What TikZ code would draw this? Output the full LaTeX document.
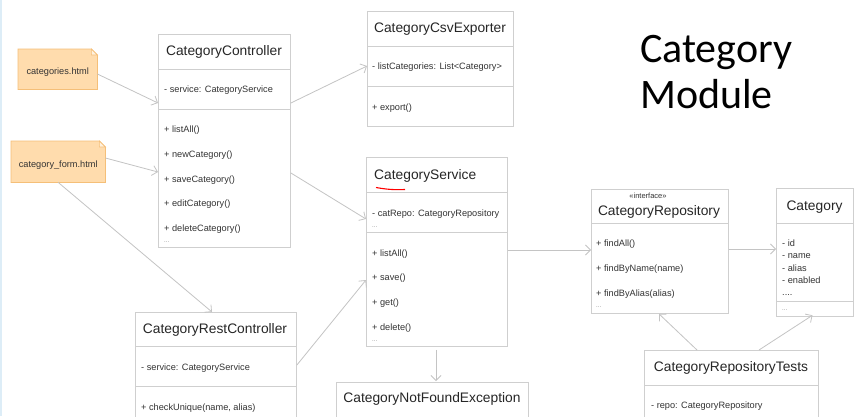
\documentclass[tikz,border=0pt]{standalone}
\usepackage{fontspec}
\setmainfont{Liberation Sans}
\newfontfamily\slidefont{Carlito}
\usetikzlibrary{arrows.meta}
\definecolor{l_note}{HTML}{FFDCAD}
\definecolor{d_note}{HTML}{F5BF78}
\definecolor{l_fold}{HTML}{FFF1DE}
\definecolor{d_box}{HTML}{CFCFCF}
\definecolor{d_line}{HTML}{C4C4C4}
\definecolor{d_text}{HTML}{333333}
\definecolor{l_edge}{HTML}{DDEDF7}

\begin{document}
\begin{tikzpicture}[x=1pt,y=-1pt,
  classbox/.style n args={2}{draw=d_box, line width=0.9pt, fill=white, anchor=north west,
    inner sep=0pt, minimum width=#1, minimum height=#2},
  notebox/.style n args={2}{anchor=north west, inner sep=0pt, minimum width=#1, minimum height=#2},
  classname/.style={font=\fontsize{13.8}{16}\selectfont, text=black!85, inner sep=0pt},
  member/.style={font=\fontsize{9.2}{11}\selectfont, text=d_text, inner sep=0pt, anchor=base west, yshift=-3.4pt},
  more/.style={font=\fontsize{6}{7}\selectfont, text=gray, inner sep=0pt, anchor=west},
  sepline/.style={draw=d_box, line width=0.9pt},
  conn/.style={draw=d_line, line width=0.8pt, -{Straight Barb[length=5pt,width=10pt]}}]

\clip (0,0) rectangle (862,416);
\fill[white] (0,0) rectangle (862,416);
\fill[l_edge] (0,0) rectangle (2,416);

% title of the slide
\node[font=\slidefont\fontsize{42}{46}\selectfont, inner sep=0pt, anchor=base west] (titlea) at (640,62) {Category};
\node[font=\slidefont\fontsize{42}{46}\selectfont, inner sep=0pt, anchor=base west] (titleb) at (640,108) {Module};

% html pages
\node[notebox={79}{40}] (pagelist) at (18,49) {};
\node[notebox={94}{41}] (pageform) at (11,141) {};
\foreach \p in {pagelist,pageform}
{
\filldraw[fill=l_note, draw=d_note, line width=0.8pt] (\p.north west) -- ([xshift=-6pt]\p.north east) -- ([yshift=-6pt]\p.north east) -- (\p.south east) -- (\p.south west) -- cycle;
\filldraw[fill=l_fold, draw=d_note, line width=0.6pt] ([xshift=-6pt]\p.north east) -- ([xshift=-6pt,yshift=-6pt]\p.north east) -- ([yshift=-6pt]\p.north east) -- cycle;
}
\node[member, anchor=center, yshift=0pt] (pagelistname) at (pagelist.center) {categories.html};
\node[member, anchor=center, yshift=0pt] (pageformname) at (pageform.center) {category\_form.html};

% CategoryController
\node[classbox={132}{213}] (ctrl) at (158,34) {};
\draw[sepline] (ctrl.west |- 0,69) -- (ctrl.east |- 0,69);
\draw[sepline] (ctrl.west |- 0,109) -- (ctrl.east |- 0,109);
\node[classname] (ctrlname) at (224,52) {CategoryController};
\node[member] (ctrlattr) at (164,89) {- service: CategoryService};
\foreach \y/\txt [count=\i] in {129/{+ listAll()},154/{+ newCategory()},179/{+ saveCategory()},203/{+ editCategory()},228/{+ deleteCategory()}}
\node[member] (ctrlop\i) at (164,\y) {\txt};
\node[more] (ctrlmore) at (164,242) {...};

% CategoryCsvExporter
\node[classbox={146}{115}] (csv) at (367,11) {};
\draw[sepline] (csv.west |- 0,46) -- (csv.east |- 0,46);
\draw[sepline] (csv.west |- 0,86) -- (csv.east |- 0,86);
\node[classname] (csvname) at (440,29) {CategoryCsvExporter};
\node[member] (csvattr) at (372,66) {- listCategories: List<Category>};
\node[member] (csvop) at (372,107) {+ export()};

% CategoryService
\node[classbox={141}{189}] (svc) at (366,157) {};
\draw[sepline] (svc.west |- 0,192) -- (svc.east |- 0,192);
\draw[sepline] (svc.west |- 0,232) -- (svc.east |- 0,232);
\node[classname, anchor=west] (svcname) at (374,176) {CategoryService};
\draw[red, line width=1.1pt] (376,187.5) to[bend right=6] (405,189.5);
\node[member] (svcattr) at (372,213) {- catRepo: CategoryRepository};
\node[more] (svcattrmore) at (372,227) {...};
\foreach \y/\txt [count=\i] in {253/{+ listAll()},277/{+ save()},302/{+ get()},327/{+ delete()}}
\node[member] (svcop\i) at (372,\y) {\txt};
\node[more] (svcmore) at (372,341) {...};

% CategoryRestController
\node[classbox={161}{120}] (rest) at (135,312) {};
\draw[sepline] (rest.west |- 0,346) -- (rest.east |- 0,346);
\draw[sepline] (rest.west |- 0,386) -- (rest.east |- 0,386);
\node[classname] (restname) at (215,330) {CategoryRestController};
\node[member] (restattr) at (141,367) {- service: CategoryService};
\node[member] (restop) at (141,407) {+ checkUnique(name, alias)};

% CategoryNotFoundException
\node[classbox={192}{50}] (exc) at (336,382) {};
\node[classname] (excname) at (432,399) {CategoryNotFoundException};

% CategoryRepository
\node[classbox={137}{124}] (repo) at (591,189) {};
\draw[sepline] (repo.west |- 0,223) -- (repo.east |- 0,223);
\node[font=\fontsize{7.5}{9}\selectfont, text=d_text, inner sep=0pt] (repostereo) at (648,196) {«interface»};
\node[classname] (reponame) at (659,212) {CategoryRepository};
\foreach \y/\txt [count=\i] in {243/{+ findAll()},268/{+ findByName(name)},293/{+ findByAlias(alias)}}
\node[member] (repoop\i) at (596,\y) {\txt};
\node[more] (repomore) at (596,307) {...};

% Category
\node[classbox={77}{128}] (cat) at (776,188) {};
\draw[sepline] (cat.west |- 0,223) -- (cat.east |- 0,223);
\draw[sepline] (cat.west |- 0,301) -- (cat.east |- 0,301);
\node[classname] (catname) at (814.5,207) {Category};
\foreach \y/\txt [count=\i] in {243/{- id},255/{- name},268/{- alias},280/{- enabled},292/{....}}
\node[member] (catattr\i) at (782,\y) {\txt};
\node[more] (catmore) at (782,310) {...};

% CategoryRepositoryTests
\node[classbox={174}{80}] (tests) at (644,350) {};
\draw[sepline] (tests.west |- 0,385) -- (tests.east |- 0,385);
\node[classname] (testsname) at (731,368) {CategoryRepositoryTests};
\node[member] (testsattr) at (651,405) {- repo: CategoryRepository};

% dependencies
\draw[conn] (pagelist.east |- 0,74) -- (ctrl.west |- 0,103);
\draw[conn] (pageform.east |- 0,158) -- (ctrl.west |- 0,172);
\draw[conn] (pageform.south) -- (rest.north -| 212,0);
\draw[conn] (ctrl.east |- 0,103) -- (csv.west |- 0,66);
\draw[conn] (ctrl.east |- 0,173) -- (svc.west |- 0,219);
\draw[conn] (rest.east |- 0,365) -- (svc.west |- 0,280);
\draw[conn] (svc.east |- 0,250) -- (repo.west |- 0,250);
\draw[conn, shorten <=3pt, shorten >=1pt] (svc.south -| 436,0) -- (exc.north -| 436,0);
\draw[conn] (repo.east |- 0,249) -- (cat.west |- 0,249);
\draw[conn] (tests.north -| 697,0) -- (repo.south -| 659,0);
\draw[conn, shorten >=-3pt] (tests.north -| 759,0) -- (cat.south -| 810,0);

\end{tikzpicture}
\end{document}
